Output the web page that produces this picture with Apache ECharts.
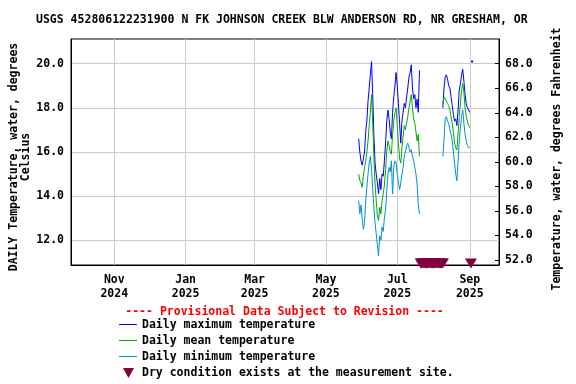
<!DOCTYPE html>
<html><head><meta charset="utf-8">
<script src="https://cdn.jsdelivr.net/npm/echarts@6/dist/echarts.min.js"></script>
<style>html,body{margin:0;padding:0;background:#fff}#c{width:576px;height:384px}</style>
</head><body><div id="c"></div>
<script>
const titleText = 'USGS 452806122231900 N FK JOHNSON CREEK BLW ANDERSON RD, NR GRESHAM, OR';
const provisionalText = '---- Provisional Data Subject to Revision ----';
const xTickDates = ['2024-11-01','2025-01-01','2025-03-01','2025-05-01','2025-07-01','2025-09-01'];
const yTicksC = [12, 14, 16, 18, 20];
const yTicksF = [52, 54, 56, 58, 60, 62, 64, 66, 68];
const seriesNames = ['Daily maximum temperature','Daily mean temperature','Daily minimum temperature','Dry condition exists at the measurement site.'];
const seriesColors = ['#0000ff', '#00aa00', '#0090d8', '#800040'];

const seg1Start = '2025-05-29';
const max1 = [16.6,16.0,15.6,15.4,15.7,16.0,16.9,17.4,18.3,18.9,19.5,20.1,18.6,16.8,15.5,15.0,14.6,14.1,14.8,14.3,15.0,14.9,15.6,16.4,17.4,17.9,17.5,16.9,16.6,17.8,18.5,19.0,19.6,19.0,18.2,17.3,16.4,17.4,17.8,18.2,18.0,18.5,18.9,19.4,19.6,19.95,18.9,18.4,18.6,18.0,18.4,17.8,19.7];
const mean1 = [15.0,14.7,14.6,14.4,14.9,15.3,15.6,16.0,16.5,17.2,17.8,18.6,17.3,15.8,14.6,13.8,13.1,12.9,13.5,13.2,13.8,14.1,14.5,15.2,16.0,16.5,16.3,16.0,15.9,16.8,17.4,17.8,18.0,17.2,16.4,15.7,15.5,16.2,16.7,17.2,17.0,17.3,17.6,18.0,18.3,18.6,18.0,17.5,17.3,16.9,16.5,16.8,15.8];
const min1 = [13.8,13.2,13.6,13.0,12.5,12.8,13.8,14.4,15.0,15.5,15.8,15.2,14.3,13.5,12.8,12.3,11.8,11.3,12.2,12.0,12.6,12.4,13.0,13.4,14.2,15.0,15.3,15.1,15.6,14.1,15.3,15.6,15.5,15.0,14.6,14.3,14.6,15.0,15.3,15.8,16.0,16.3,16.4,16.2,16.0,16.1,15.8,15.6,15.3,15.0,14.5,13.6,13.2];

const seg2Start = '2025-08-09';
const max2 = [18.0,18.9,19.4,19.5,19.3,19.0,18.9,18.5,18.1,17.7,17.4,17.5,17.2,17.9,18.8,19.1,19.5,19.75,19.2,18.6,18.2,18.0,17.9,17.8];
const mean2 = [18.2,18.5,18.4,18.3,18.2,18.1,17.9,17.6,17.3,16.9,16.4,16.2,16.1,16.8,17.6,18.2,18.8,19.1,18.7,18.0,17.6,17.4,17.2,17.1];
const min2 = [15.8,16.6,17.5,17.6,17.4,17.3,17.0,16.8,16.5,16.0,15.5,15.0,14.7,15.6,16.5,17.1,17.6,17.9,17.3,16.8,16.5,16.3,16.2,16.2];

const extraMaxDates = ['2025-09-03'];
const extraMaxValues = [20.1];

const dryDates = ['2025-07-21','2025-07-22','2025-07-23','2025-07-24','2025-07-25','2025-07-26','2025-07-27','2025-07-28','2025-07-29','2025-07-30','2025-07-31','2025-08-01','2025-08-02','2025-08-03','2025-08-04','2025-08-05','2025-08-06','2025-08-07','2025-08-08','2025-08-09','2025-09-02'];

const X_MIN = '2024-09-25', X_MAX = '2025-09-26';
const C_MIN = 10.881, C_MAX = 21.119;
const DRY_LEVEL = 10.95;

const DAY = 86400000;
const MONTHS = ['Jan','Feb','Mar','Apr','May','Jun','Jul','Aug','Sep','Oct','Nov','Dec'];
function seg(start, arr) { const t0 = Date.parse(start); return arr.map((v, i) => [t0 + i * DAY, v]); }
function joined(a, b) { return seg(seg1Start, a).concat([[Date.parse(seg1Start) + a.length * DAY, '-']]).concat(seg(seg2Start, b)); }

const FONT = 'DejaVu Sans Mono';
const txt = { fontFamily: FONT, fontWeight: 'bold', fontSize: 11.5, color: '#000' };
const xTicks = xTickDates.map(d => Date.parse(d));
const TRI_ICON = 'path://M0,0M18,13M4,1L15,1L9.5,11Z';
const LEG_LEFT = 119, LEG_TOP = 319, LEG_ROW = 16;

function lineSeries(i, data) {
  return { name: seriesNames[i], type: 'line', data: data, showSymbol: false, symbol: 'none', connectNulls: false,
    lineStyle: { color: seriesColors[i], width: 1 }, itemStyle: { color: seriesColors[i] } };
}

const legendKeys = [0, 1, 2].map(i => ({
  type: 'line', silent: true,
  shape: { x1: LEG_LEFT, y1: LEG_TOP + 5.5 + i * LEG_ROW, x2: LEG_LEFT + 18, y2: LEG_TOP + 5.5 + i * LEG_ROW },
  style: { stroke: seriesColors[i], lineWidth: 1 }
}));

const chart = echarts.init(document.getElementById('c'), null, { renderer: 'canvas' });
chart.setOption({
  animation: false,
  backgroundColor: '#fff',
  title: { text: titleText, left: 36, top: 14, textStyle: Object.assign({}, txt), padding: 0 },
  graphic: [{ type: 'text', x: 284.5, y: 312, style: { text: provisionalText, fill: '#ff0000', font: 'bold 11.5px "DejaVu Sans Mono"', align: 'center', verticalAlign: 'middle' } }].concat(legendKeys),
  grid: { left: 71, right: 77, top: 39, bottom: 119, outerBoundsMode: 'none', containLabel: false, show: true, borderColor: '#000', borderWidth: 1, backgroundColor: 'transparent' },
  legend: {
    left: LEG_LEFT, top: LEG_TOP, orient: 'vertical', itemWidth: 18, itemHeight: 13, itemGap: 3, selectedMode: false,
    textStyle: Object.assign({ lineHeight: 13 }, txt), padding: 0,
    data: seriesNames.map((n, i) => i < 3
      ? { name: n, icon: 'rect', itemStyle: { opacity: 0, borderWidth: 0 }, lineStyle: { opacity: 0 } }
      : { name: n, icon: TRI_ICON, itemStyle: { color: seriesColors[i], borderWidth: 0 } })
  },
  xAxis: {
    type: 'value', min: Date.parse(X_MIN), max: Date.parse(X_MAX),
    axisLine: { show: true, lineStyle: { color: '#000', width: 1 } },
    axisTick: { show: false, customValues: xTicks },
    axisLabel: Object.assign({ customValues: xTicks, margin: 8, lineHeight: 14,
      formatter: v => { const d = new Date(v); return MONTHS[d.getUTCMonth()] + '\n' + d.getUTCFullYear(); } }, txt),
    splitLine: { show: true, lineStyle: { color: '#cccccc', width: 1 } }
  },
  yAxis: [{
    type: 'value', min: C_MIN, max: C_MAX, position: 'left',
    axisLine: { show: true, lineStyle: { color: '#000' } },
    axisTick: { show: false, customValues: yTicksC },
    axisLabel: Object.assign({ customValues: yTicksC, margin: 7, formatter: v => v.toFixed(1) }, txt),
    splitLine: { show: true, lineStyle: { color: '#cccccc', width: 1 } },
    name: 'DAILY Temperature, water, degrees\nCelsius', nameLocation: 'middle', nameRotate: 90, nameGap: 39, nameMoveOverlap: false,
    nameTextStyle: Object.assign({ lineHeight: 12, padding: [0, 10, 0, 0] }, txt)
  }, {
    type: 'value', min: C_MIN * 1.8 + 32, max: C_MAX * 1.8 + 32, position: 'right',
    axisLine: { show: true, lineStyle: { color: '#000' } },
    axisTick: { show: true, inside: true, length: 4, customValues: yTicksF, lineStyle: { color: '#000' } },
    axisLabel: Object.assign({ customValues: yTicksF, margin: 6, formatter: v => v.toFixed(1) }, txt),
    splitLine: { show: false },
    name: 'Temperature, water, degrees Fahrenheit', nameLocation: 'middle', nameRotate: 90, nameGap: 52, nameMoveOverlap: false,
    nameTextStyle: Object.assign({ padding: [0, 14, 0, 0] }, txt)
  }],
  series: [
    lineSeries(0, joined(max1, max2)),
    lineSeries(1, joined(mean1, mean2)),
    lineSeries(2, joined(min1, min2)),
    { name: 'maxExtra', type: 'scatter', data: extraMaxDates.map((d, i) => [Date.parse(d), extraMaxValues[i]]), symbol: 'rect', symbolSize: 2, itemStyle: { color: seriesColors[0], opacity: 1 } },
    { name: seriesNames[3], type: 'scatter', clip: false, data: dryDates.map(d => [Date.parse(d), DRY_LEVEL]), symbol: 'path://M0,0L12,0L6,10Z', symbolSize: [12, 10], itemStyle: { color: seriesColors[3], opacity: 1 } }
  ]
});
</script></body></html>
